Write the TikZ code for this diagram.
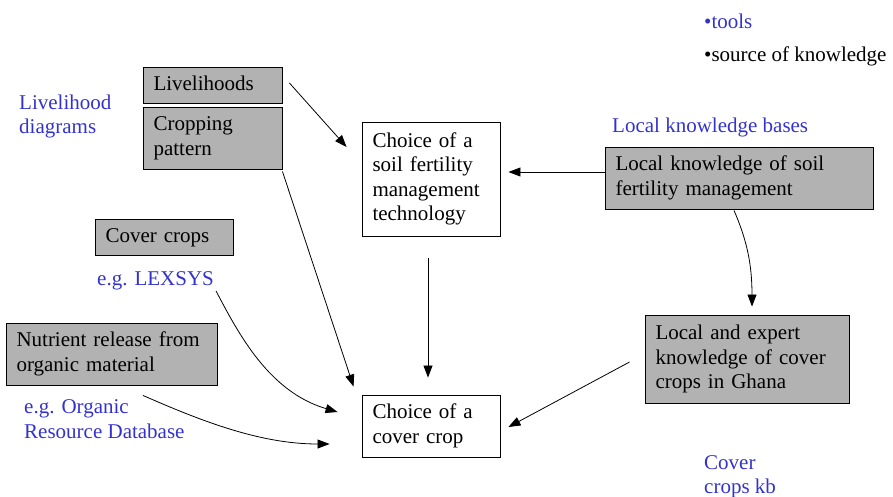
\documentclass[tikz,border=0pt]{standalone}
\usepackage{fontspec}
\setmainfont{Liberation Serif}
\usetikzlibrary{arrows.meta,calc}
\definecolor{labelblue}{RGB}{51,51,204}
\definecolor{boxgray}{RGB}{178,178,178}
% strut that fixes the first-line height and last-line depth of box texts
\newcommand\boxstrut{\rule[-6pt]{0pt}{22pt}}
\begin{document}
\begin{tikzpicture}[x=1pt,y=-1pt,
  every node/.style={font=\fontsize{21}{24.5}\selectfont},
  box/.style={draw=black,line width=0.9pt,inner xsep=10.5pt,inner ysep=0pt,
    align=left,text width=#1-21pt,minimum width=#1,anchor=center},
  knowbox/.style={box=#1,fill=boxgray},
  plainbox/.style={box=#1,fill=white},
  tag/.style={text=labelblue,inner sep=0pt,anchor=base west,align=left},
  arr/.style={line width=0.8pt,-{Triangle[length=12pt,width=9pt]}}]
\useasboundingbox (0,0) rectangle (893,496);

% knowledge boxes (grey) and decision boxes (white)
\node[knowbox=139pt,minimum height=36pt] (liv)  at (212.5,85)  {\boxstrut Livelihoods\boxstrut};
\node[knowbox=139pt,minimum height=62pt] (crop) at (212.5,138) {\boxstrut Cropping\\pattern\boxstrut};
\node[knowbox=138pt,minimum height=36pt] (cover) at (164,237)  {\boxstrut Cover crops\boxstrut};
\node[knowbox=211pt,minimum height=62pt] (nutr) at (111.5,354) {\boxstrut Nutrient release from\\organic material\boxstrut};
\node[plainbox=138pt,minimum height=114pt] (soil) at (431,179) {\boxstrut Choice of a\\soil fertility\\management\\technology\boxstrut};
\node[knowbox=268pt,minimum height=62pt] (lksf) at (739,178) {\boxstrut Local knowledge of soil\\fertility management\boxstrut};
\node[knowbox=204pt,minimum height=88pt] (lek) at (747,359) {\boxstrut Local and expert\\knowledge of cover\\crops in Ghana\boxstrut};
\node[plainbox=138pt,minimum height=62pt] (ccrop) at (431,426) {\boxstrut Choice of a\\cover crop\boxstrut};

% tool and source labels
\node[tag] (tools) at (704,28) {•tools};
\node[tag,text=black] (source) at (704,61) {•source of knowledge};
\node[tag] (lkb) at (612,132) {Local knowledge bases};
\node[tag] (livdiag) at (19,109) {Livelihood};
\node[tag] (livdiag2) at (19,133) {diagrams};
\node[tag] (lexsys) at (97,285) {e.g. LEXSYS};
\node[tag] (org) at (24,413) {e.g. Organic};
\node[tag] (org2) at (24,438) {Resource Database};
\node[tag] (ckb) at (704,469) {Cover};
\node[tag] (ckb2) at (704,493) {crops kb};

% connectors
\draw[arr] ($(liv.east)+(7,-2)$) -- ($(soil.west)+(-15,-32)$);
\draw[arr] ($(crop.south east)+(0,2)$) -- ($(ccrop.north west)+(-8,-8)$);
\draw[arr] ($(soil.south)+(-3,22)$) -- ($(ccrop.north)+(-3,-17)$);
\draw[arr] ($(lksf.west)+(0,-6)$) -- ($(soil.east)+(8,-7)$);
\draw[arr] ($(lksf.south)+(-5,1)$) .. controls ($(lksf.south)+(8,31)$) and ($(lek.north)+(5,-50)$) .. ($(lek.north)+(5,-8)$);
\draw[arr] ($(lek.west)+(-15,3)$) -- ($(ccrop.east)+(8,1)$);
\draw[arr] ($(lexsys.base east)+(2,6)$) .. controls ($(lexsys.base east)+(25,50)$) and ($(ccrop.west)+(-92,-34)$) .. ($(ccrop.west)+(-24,-14)$);
\draw[arr] ($(nutr.south)+(31.5,10)$) .. controls ($(nutr.south)+(88.5,35)$) and ($(ccrop.west)+(-102,18)$) .. ($(ccrop.west)+(-32,18)$);
\end{tikzpicture}
\end{document}
